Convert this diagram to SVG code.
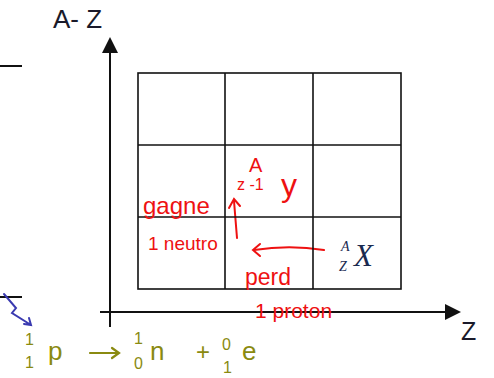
<svg xmlns="http://www.w3.org/2000/svg" width="494" height="378" viewBox="0 0 494 378">
<style>
.ax{stroke:#111;stroke-width:2;fill:none}
.grid{stroke:#111;stroke-width:1.6;fill:none}
.lbl{font-family:"Liberation Sans",Arial,sans-serif;fill:#1a1a2a}
.nuc{font-family:"Liberation Serif","Times New Roman",serif;font-style:italic;fill:#1a2a50}
.red{font-family:"Liberation Sans",Arial,sans-serif;fill:#ee1111}
.ol{font-family:"Liberation Sans",Arial,sans-serif;fill:#8a8a10}
.rl{stroke:#ee1111;stroke-width:2;fill:none;stroke-linecap:round}
</style>
<rect width="494" height="378" fill="#fff"/>
<g id="connectors">
<line class="ax" x1="110" y1="327" x2="110" y2="53"/>
<polygon points="110,37 102,53 118,53" fill="#111"/>
<line class="ax" x1="100" y1="312" x2="446" y2="312"/>
<polygon points="461,312 445,304 445,320" fill="#111"/>
<line x1="0" y1="66" x2="22" y2="66" stroke="#111" stroke-width="2"/>
<line x1="0" y1="297" x2="22" y2="297" stroke="#111" stroke-width="2"/>
<path class="rl" d="M237,238 C236,225 235,212 234,201"/>
<path class="rl" d="M229,208 L234,199 L240,206"/>
<path class="rl" d="M324,250 C305,247 280,246 254,250"/>
<path class="rl" d="M260,244 L253,250 L260,256"/>
<path d="M4,294 L16,308 L12,313 L31,325 M24,324 L31,325 L29,318" stroke="#3a3ab0" stroke-width="2" fill="none" stroke-linecap="round"/>
<path d="M90,353 L118,353 M112,348 L119,353 L112,358" stroke="#8a8a10" stroke-width="2.2" fill="none" stroke-linecap="round"/>
</g>
<g id="grid">
<rect class="grid" x="138" y="73" width="263" height="216"/>
<line class="grid" x1="225" y1="73" x2="225" y2="289"/>
<line class="grid" x1="313" y1="73" x2="313" y2="289"/>
<line class="grid" x1="138" y1="145" x2="401" y2="145"/>
<line class="grid" x1="138" y1="217" x2="401" y2="217"/>
</g>
<g id="axis-labels">
<text class="lbl" x="53" y="28" font-size="26">A- Z</text>
<text class="lbl" x="461" y="340" font-size="25">Z</text>
</g>
<g id="nuclide-X">
<text class="nuc" x="341" y="251" font-size="14">A</text>
<text class="nuc" x="339" y="271" font-size="14">Z</text>
<text class="nuc" x="354" y="266" font-size="31">X</text>
</g>
<g id="nuclide-Y">
<text class="red" x="249" y="172" font-size="20">A</text>
<text class="red" x="237" y="190" font-size="16">z -1</text>
<text class="red" x="281" y="196" font-size="32">y</text>
</g>
<g id="gain-label">
<text class="red" x="143" y="214" font-size="24">gagne</text>
<text class="red" x="148" y="250" font-size="19">1 neutro</text>
</g>
<g id="lose-label">
<text class="red" x="245" y="285" font-size="23">perd</text>
<text class="red" x="255" y="318" font-size="21">1 proton</text>
</g>
<g id="equation">
<text class="ol" x="25" y="345" font-size="16">1</text>
<text class="ol" x="25" y="368" font-size="16">1</text>
<text class="ol" x="48" y="360" font-size="26">p</text>
<text class="ol" x="134" y="344" font-size="16">1</text>
<text class="ol" x="134" y="369" font-size="16">0</text>
<text class="ol" x="150" y="360" font-size="26">n</text>
<text class="ol" x="196" y="360" font-size="24">+</text>
<text class="ol" x="222" y="350" font-size="16">0</text>
<text class="ol" x="223" y="373" font-size="16">1</text>
<text class="ol" x="242" y="360" font-size="26">e</text>
</g>
</svg>
